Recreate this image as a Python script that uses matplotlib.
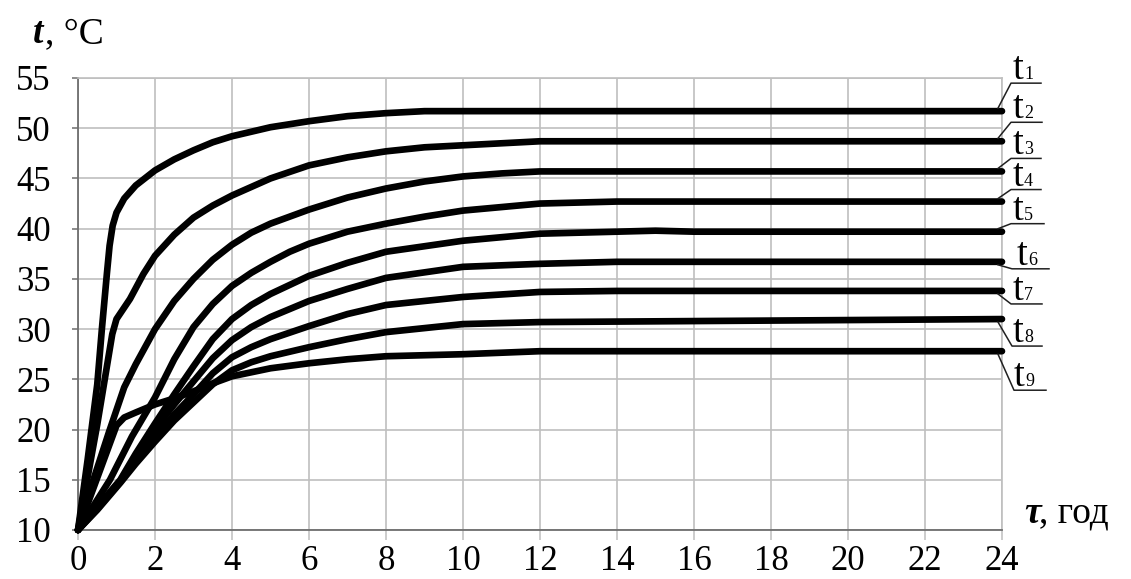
"""Temperature rise curves t1..t9 over 24 hours."""

import matplotlib
import matplotlib.pyplot as plt
from matplotlib.lines import Line2D
from matplotlib.transforms import IdentityTransform

matplotlib.use("Agg")

# --- data (tau in hours, t in degC) ---
tau_1 = [0, 0.25, 0.5, 0.62, 0.75, 0.82, 0.9, 1.0, 1.2, 1.5, 2, 2.5, 3, 3.5, 4, 5, 6, 7, 8, 9, 24]
t_1 = [10, 17, 24.5, 30, 35.5, 38.3, 40.3, 41.6, 43, 44.3, 45.8, 46.9, 47.8, 48.6, 49.2, 50.1, 50.7,
       51.2, 51.5, 51.7, 51.7]

tau_2 = [0, 0.5, 0.89, 1.0, 1.35, 1.7, 2, 2.5, 3, 3.5, 4, 5, 6, 7, 8, 9, 10, 11, 12, 24]
t_2 = [10, 20.5, 29.5, 31, 33, 35.5, 37.3, 39.4, 41.1, 42.3, 43.3, 45, 46.3, 47.1, 47.7, 48.1,
       48.3, 48.5, 48.7, 48.7]

tau_3 = [0, 0.4, 0.8, 1.2, 1.5, 2, 2.5, 3, 3.5, 4, 4.5, 5, 6, 7, 8, 9, 10, 11, 12, 24]
t_3 = [10, 15, 19.7, 24.2, 26.5, 30, 32.8, 35, 36.9, 38.4, 39.6, 40.5, 41.9, 43.1, 44, 44.7,
       45.2, 45.5, 45.7, 45.7]

tau_4 = [0, 0.5, 0.83, 1.4, 2, 2.5, 3, 3.5, 4, 4.5, 5, 5.5, 6, 7, 8, 9, 10, 12, 14, 24]
t_4 = [10, 13, 15, 19.3, 23.2, 27, 30.2, 32.5, 34.3, 35.6, 36.7, 37.7, 38.5, 39.7, 40.5, 41.2,
       41.8, 42.5, 42.7, 42.7]

tau_5 = [0, 0.5, 1.1, 1.5, 2, 2.5, 3, 3.5, 4, 4.5, 5, 6, 7, 8, 10, 12, 14, 15, 16, 24]
t_5 = [10, 12.3, 15, 17.6, 20.6, 23.5, 26.3, 29, 31, 32.4, 33.5, 35.3, 36.6, 37.7, 38.8, 39.5,
       39.7, 39.8, 39.7, 39.7]

tau_6 = [0, 0.5, 1.1, 1.5, 2, 2.5, 3, 3.5, 4, 4.5, 5, 6, 7, 8, 10, 12, 14, 24]
t_6 = [10, 12.2, 14.9, 17.3, 20.1, 22.5, 24.8, 27.1, 28.9, 30.2, 31.2, 32.8, 34, 35.1, 36.2,
       36.5, 36.7, 36.7]

tau_7 = [0, 0.5, 1.1, 1.5, 2, 2.5, 3, 3.5, 4, 4.5, 5, 6, 7, 8, 10, 12, 14, 24]
t_7 = [10, 12.1, 14.8, 16.9, 19.4, 21.5, 23.5, 25.6, 27.2, 28.2, 29, 30.3, 31.5, 32.4, 33.2,
       33.7, 33.8, 33.8]

tau_8 = [0, 0.5, 1.1, 1.5, 2, 2.5, 3, 3.5, 4, 4.5, 5, 6, 7, 8, 10, 12, 16, 24]
t_8 = [10, 12, 14.7, 16.6, 18.8, 20.9, 22.7, 24.5, 25.9, 26.7, 27.3, 28.2, 29, 29.7, 30.5,
       30.7, 30.8, 31.0]

tau_9 = [0, 0.5, 1.0, 1.2, 1.5, 2, 2.5, 3, 3.5, 4, 5, 6, 7, 8, 10, 12, 24]
t_9 = [10, 15.2, 20.4, 21.2, 21.7, 22.5, 23.1, 23.8, 24.6, 25.3, 26.1, 26.6, 27.0, 27.3, 27.5,
       27.8, 27.8]

series = [(tau_1, t_1), (tau_2, t_2), (tau_3, t_3), (tau_4, t_4), (tau_5, t_5),
          (tau_6, t_6), (tau_7, t_7), (tau_8, t_8), (tau_9, t_9)]
subscripts = ["1", "2", "3", "4", "5", "6", "7", "8", "9"]

x_ticks = list(range(0, 25, 2))
y_ticks = list(range(10, 56, 5))

# leader elbow offsets from the curve end (pixels, y downwards) and underline length
leader_dx = [9, 9, 9, 9, 9, 10, 9, 10, 12]
leader_dy = [-28, -19, -13, -12, -8, 7, 13, 27, 39]
underline_len = [30, 31, 30, 30, 33, 37, 31, 30, 32]
text_dx = [11, 11, 11, 11, 11, 15, 11, 11, 12]

W, H = 1131, 579
SERIF = "Liberation Serif"
GRID = "#bfbfbf"
SPINE = "#6e6e6e"

plt.rcParams["font.family"] = SERIF

fig = plt.figure(figsize=(W / 100, H / 100), dpi=100)
ax = fig.add_axes([78 / W, 1 - 530 / H, (1002 - 78) / W, (530 - 78) / H])

for tau, temp in series:
    ax.plot(tau, temp, color="black", linewidth=4.8, solid_capstyle="round",
            solid_joinstyle="round", clip_on=False, zorder=3)

ax.set_xlim(0, 24)
ax.set_ylim(10, 55)
ax.set_xticks(x_ticks)
ax.set_yticks(y_ticks)
ax.grid(True, color=GRID, linewidth=1.2)
ax.set_axisbelow(True)

for side in ("top", "right"):
    ax.spines[side].set_color(GRID)
    ax.spines[side].set_linewidth(1.2)
for side in ("left", "bottom"):
    ax.spines[side].set_color(SPINE)
    ax.spines[side].set_linewidth(1.3)

ax.tick_params(axis="x", direction="out", length=7, width=1.1, color=GRID,
               labelsize=25, pad=4)
ax.tick_params(axis="y", direction="out", length=4.5, width=1.1, color=SPINE,
               labelsize=25, pad=15)


# axis titles
def px_text(x, y_top, s, **kw):
    fig.text(x / W, 1 - y_top / H, s, **kw)


px_text(33, 43, "t", fontsize=27, fontweight="bold", style="italic", va="baseline")
px_text(45, 43, ", °C", fontsize=27, va="baseline")
px_text(1024, 523, "τ", fontsize=27, fontweight="bold", style="italic", va="baseline")
px_text(1039, 523, ", год", fontsize=27, va="baseline")

# curve labels with leader lines
fig.canvas.draw()
ident = IdentityTransform()
for i, (tau, temp) in enumerate(series):
    x0, y0 = ax.transData.transform((tau[-1], temp[-1]))
    ex, ey = x0 + leader_dx[i], y0 - leader_dy[i]
    y_start = y0 + (3 if leader_dy[i] < 0 else -3)
    fig.add_artist(Line2D([x0 - 4, ex, ex + underline_len[i]], [y_start, ey, ey],
                          color="#202020", linewidth=1.1, transform=ident))
    tx = ex + text_dx[i] - leader_dx[i]
    fig.text(tx / W, (ey + 4) / H, "t", fontsize=28, va="baseline", ha="left")
    fig.text((tx + 11) / W, (ey + 4) / H, subscripts[i], fontsize=13, va="baseline", ha="left")

fig.savefig("out.png", dpi=100)
